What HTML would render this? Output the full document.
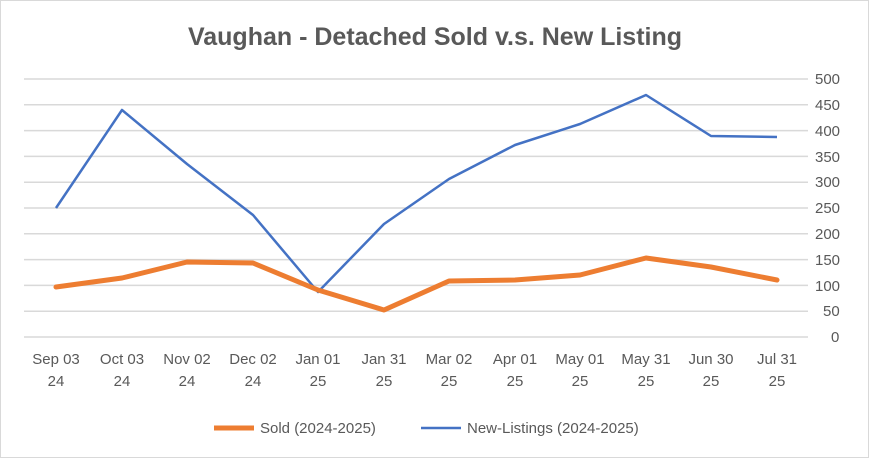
<!DOCTYPE html>
<html><head><style>
body{margin:0;background:#fff;}
svg{display:block;font-family:"Liberation Sans",sans-serif;}
</style></head><body>
<svg width="869" height="458" viewBox="0 0 869 458">
<rect x="0.5" y="0.5" width="868" height="457" fill="#fff" stroke="#d9d9d9"/>
<text x="435" y="45" text-anchor="middle" font-size="25" font-weight="bold" fill="#595959">Vaughan - Detached Sold v.s. New Listing</text>
<g stroke="#d9d9d9" stroke-width="1.5">
<line x1="24" x2="808" y1="79" y2="79"/><line x1="24" x2="808" y1="104.8" y2="104.8"/>
<line x1="24" x2="808" y1="130.6" y2="130.6"/><line x1="24" x2="808" y1="156.4" y2="156.4"/>
<line x1="24" x2="808" y1="182.2" y2="182.2"/><line x1="24" x2="808" y1="208" y2="208"/>
<line x1="24" x2="808" y1="233.8" y2="233.8"/><line x1="24" x2="808" y1="259.6" y2="259.6"/>
<line x1="24" x2="808" y1="285.4" y2="285.4"/><line x1="24" x2="808" y1="311.2" y2="311.2"/>
<line x1="24" x2="808" y1="337" y2="337"/>
</g>
<g font-size="15" fill="#595959" text-anchor="start">
<text x="815" y="84">500</text><text x="815" y="110">450</text><text x="815" y="136">400</text>
<text x="815" y="162">350</text><text x="815" y="187">300</text><text x="815" y="213">250</text>
<text x="815" y="239">200</text><text x="815" y="265">150</text><text x="815" y="291">100</text>
<text x="823" y="316">50</text><text x="831" y="342">0</text>
</g>
<g font-size="15" fill="#595959" text-anchor="middle">
<text x="56" y="364">Sep 03</text><text x="56" y="386">24</text>
<text x="122" y="364">Oct 03</text><text x="122" y="386">24</text>
<text x="187" y="364">Nov 02</text><text x="187" y="386">24</text>
<text x="253" y="364">Dec 02</text><text x="253" y="386">24</text>
<text x="318" y="364">Jan 01</text><text x="318" y="386">25</text>
<text x="384" y="364">Jan 31</text><text x="384" y="386">25</text>
<text x="449" y="364">Mar 02</text><text x="449" y="386">25</text>
<text x="515" y="364">Apr 01</text><text x="515" y="386">25</text>
<text x="580" y="364">May 01</text><text x="580" y="386">25</text>
<text x="646" y="364">May 31</text><text x="646" y="386">25</text>
<text x="711" y="364">Jun 30</text><text x="711" y="386">25</text>
<text x="777" y="364">Jul 31</text><text x="777" y="386">25</text>
</g>
<polyline fill="none" stroke="#4472c4" stroke-width="2.5" stroke-linejoin="round" points="56,208 122,110 187,164 253,215 318,292 384,224 449,179 515,145 580,124 646,95 711,136 777,137"/>
<polyline fill="none" stroke="#ed7d31" stroke-width="5" stroke-linejoin="round" stroke-linecap="round" points="56,287 122,278 187,262 253,263 318,290 384,310 449,281 515,280 580,275 646,258 711,267 777,280"/>
<line x1="214" x2="254" y1="428" y2="428" stroke="#ed7d31" stroke-width="5"/>
<text x="260" y="433" font-size="15" fill="#595959">Sold (2024-2025)</text>
<line x1="421" x2="461" y1="428" y2="428" stroke="#4472c4" stroke-width="2.5"/>
<text x="467" y="433" font-size="15" fill="#595959">New-Listings (2024-2025)</text>
</svg>
</body></html>
